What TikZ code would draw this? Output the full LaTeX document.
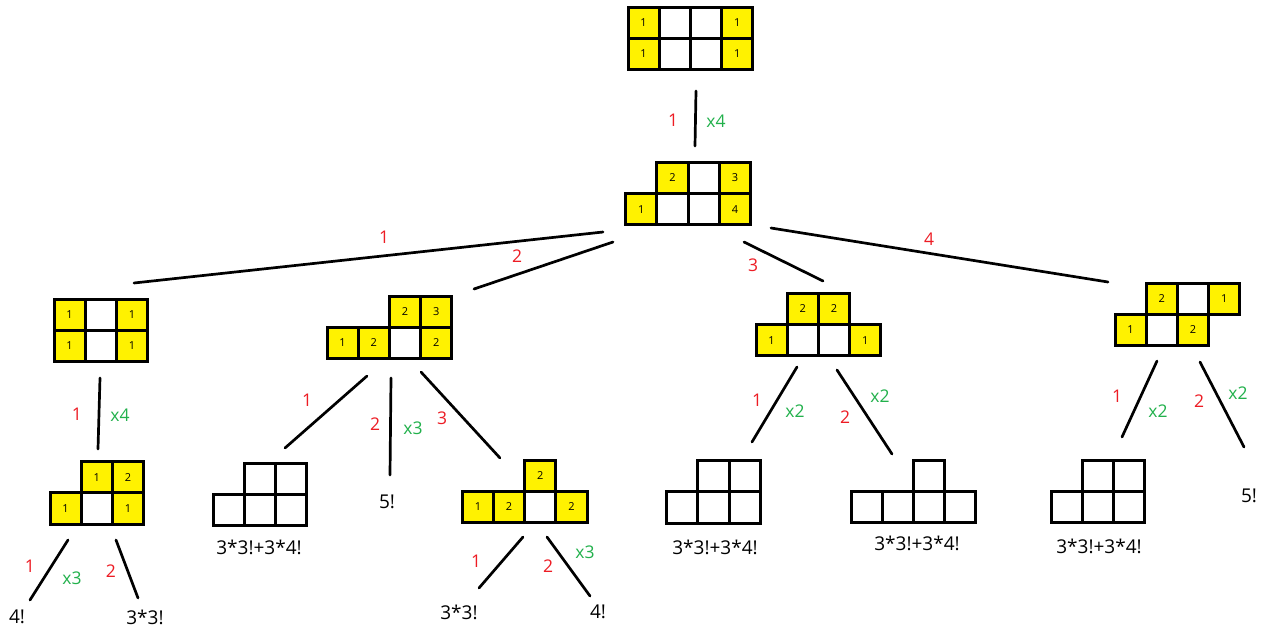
\documentclass[tikz,border=0pt]{standalone}
\usepackage{fontspec}
\setmainfont{Open Sans}
\definecolor{cy}{RGB}{255,242,0}
\definecolor{lred}{RGB}{237,28,36}
\definecolor{lgreen}{RGB}{34,177,76}
\tikzset{
 cellbox/.style={draw=black, line width=3pt, minimum width=31.2pt, minimum height=31.2pt, inner sep=0pt, font=\fontsize{11}{13}\selectfont, fill=white},
 ycell/.style={cellbox, fill=cy},
 wcell/.style={cellbox},
 conn/.style={line width=2.7pt, line cap=round},
 rl/.style={text=lred, font=\fontsize{17.5}{20}\selectfont, inner sep=0pt},
 gl/.style={text=lgreen, font=\fontsize{17.5}{20}\selectfont, inner sep=0pt},
 res/.style={font=\fontsize{19}{22}\selectfont, inner sep=0pt},
}
\newcommand\gridorigin[2]{\def\gox{#1}\def\goy{#2}}
\newcommand\cel[5]{\node[#4] (#1) at ({\gox+(#2+0.5)*31.2},{\goy+(#3+0.5)*31.2}) {#5};}
\begin{document}
\begin{tikzpicture}[x=1pt,y=-1pt]
\useasboundingbox[fill=white] (0,0) rectangle (1275,633);
% G0
\gridorigin{628}{7}
\cel{a1}{1}{0}{wcell}{}\cel{a2}{2}{0}{wcell}{}\cel{a5}{1}{1}{wcell}{}\cel{a6}{2}{1}{wcell}{}
\cel{a0}{0}{0}{ycell}{1}\cel{a3}{3}{0}{ycell}{1}\cel{a4}{0}{1}{ycell}{1}\cel{a7}{3}{1}{ycell}{1}
% G1
\gridorigin{625.7}{162.3}
\cel{b1}{2}{0}{wcell}{}\cel{b4}{1}{1}{wcell}{}\cel{b5}{2}{1}{wcell}{}
\cel{b0}{1}{0}{ycell}{2}\cel{b2}{3}{0}{ycell}{3}\cel{b3}{0}{1}{ycell}{1}\cel{b6}{3}{1}{ycell}{4}
% G2
\gridorigin{54}{299}
\cel{c1}{1}{0}{wcell}{}\cel{c4}{1}{1}{wcell}{}
\cel{c0}{0}{0}{ycell}{1}\cel{c2}{2}{0}{ycell}{1}\cel{c3}{0}{1}{ycell}{1}\cel{c5}{2}{1}{ycell}{1}
% G3
\gridorigin{327}{296}
\cel{d4}{2}{1}{wcell}{}
\cel{d0}{2}{0}{ycell}{2}\cel{d1}{3}{0}{ycell}{3}\cel{d2}{0}{1}{ycell}{1}\cel{d3}{1}{1}{ycell}{2}\cel{d5}{3}{1}{ycell}{2}
% G4
\gridorigin{756}{293.3}
\cel{e3}{1}{1}{wcell}{}\cel{e4}{2}{1}{wcell}{}
\cel{e0}{1}{0}{ycell}{2}\cel{e1}{2}{0}{ycell}{2}\cel{e2}{0}{1}{ycell}{1}\cel{e5}{3}{1}{ycell}{1}
% G5
\gridorigin{1115}{283}
\cel{f1}{2}{0}{wcell}{}\cel{f4}{1}{1}{wcell}{}
\cel{f0}{1}{0}{ycell}{2}\cel{f2}{3}{0}{ycell}{1}\cel{f3}{0}{1}{ycell}{1}\cel{f5}{2}{1}{ycell}{2}
% G6
\gridorigin{50}{461.7}
\cel{g3}{1}{1}{wcell}{}
\cel{g0}{1}{0}{ycell}{1}\cel{g1}{2}{0}{ycell}{2}\cel{g2}{0}{1}{ycell}{1}\cel{g4}{2}{1}{ycell}{1}
% G7
\gridorigin{462.3}{460}
\cel{h3}{2}{1}{wcell}{}
\cel{h0}{2}{0}{ycell}{2}\cel{h1}{0}{1}{ycell}{1}\cel{h2}{1}{1}{ycell}{2}\cel{h4}{3}{1}{ycell}{2}
% G8
\gridorigin{213.3}{463.3}
\cel{i0}{1}{0}{wcell}{}\cel{i1}{2}{0}{wcell}{}\cel{i2}{0}{1}{wcell}{}\cel{i3}{1}{1}{wcell}{}\cel{i4}{2}{1}{wcell}{}
% G9
\gridorigin{666.7}{460.7}
\cel{j0}{1}{0}{wcell}{}\cel{j1}{2}{0}{wcell}{}\cel{j2}{0}{1}{wcell}{}\cel{j3}{1}{1}{wcell}{}\cel{j4}{2}{1}{wcell}{}
% G10
\gridorigin{851}{460}
\cel{k0}{2}{0}{wcell}{}\cel{k1}{0}{1}{wcell}{}\cel{k2}{1}{1}{wcell}{}\cel{k3}{2}{1}{wcell}{}\cel{k4}{3}{1}{wcell}{}
% G11
\gridorigin{1051}{460}
\cel{l0}{1}{0}{wcell}{}\cel{l1}{2}{0}{wcell}{}\cel{l2}{0}{1}{wcell}{}\cel{l3}{1}{1}{wcell}{}\cel{l4}{2}{1}{wcell}{}
% connector end points
\coordinate (p0a) at (696,91);   \coordinate (p0b) at (695,146);
\coordinate (p1a) at (603,232);  \coordinate (p1b) at (134,283);
\coordinate (p2a) at (613,242);  \coordinate (p2b) at (474,289);
\coordinate (p3a) at (744,242);  \coordinate (p3b) at (823,281);
\coordinate (p4a) at (771,228);  \coordinate (p4b) at (1108,282);
\coordinate (p5a) at (100,378);  \coordinate (p5b) at (98,449);
\coordinate (p6a) at (68,540);   \coordinate (p6b) at (30,600);
\coordinate (p7a) at (116,540);  \coordinate (p7b) at (138,598);
\coordinate (p8a) at (367,376);  \coordinate (p8b) at (285,448);
\coordinate (p9a) at (391,378);  \coordinate (p9b) at (390,475);
\coordinate (p10a) at (421,372); \coordinate (p10b) at (500,458);
\coordinate (p11a) at (523,537); \coordinate (p11b) at (479,588);
\coordinate (p12a) at (547,537); \coordinate (p12b) at (590,596);
\coordinate (p13a) at (797,367); \coordinate (p13b) at (752,442);
\coordinate (p14a) at (837,370); \coordinate (p14b) at (892,454);
\coordinate (p15a) at (1157,361);\coordinate (p15b) at (1122,437);
\coordinate (p16a) at (1200,362);\coordinate (p16b) at (1244,447);
\foreach \n in {0,...,16}{\draw[conn] (p\n a) -- (p\n b);}
% labels
\node[rl] (r0) at (673,120) {1}; \node[gl] (g0l) at (716,121) {x4};
\node[rl] (r1) at (384,237) {1};
\node[rl] (r2) at (517,256) {2};
\node[rl] (r3) at (753,265) {3};
\node[rl] (r4) at (929,239) {4};
\node[rl] (r5) at (77,414) {1}; \node[gl] (g5l) at (120,415) {x4};
\node[rl] (r6) at (30,566) {1}; \node[gl] (g6l) at (72,578) {x3};
\node[rl] (r7) at (111,571) {2};
\node[rl] (r8) at (307,400) {1};
\node[rl] (r9) at (375,424) {2}; \node[gl] (g9l) at (413,428) {x3};
\node[rl] (r10) at (442,418) {3};
\node[rl] (r11) at (476,561) {1};
\node[rl] (r12) at (548,566) {2}; \node[gl] (g12l) at (585,552) {x3};
\node[rl] (r13) at (757,400) {1}; \node[gl] (g13l) at (795,411) {x2};
\node[rl] (r14) at (845,417) {2}; \node[gl] (g14l) at (880,396) {x2};
\node[rl] (r15) at (1117,396) {1}; \node[gl] (g15l) at (1158,411) {x2};
\node[rl] (r16) at (1199,401) {2}; \node[gl] (g16l) at (1238,393) {x2};
% results
\node[res] (t1) at (387,502) {5!};
\node[res] (t2) at (17,617) {4!};
\node[res] (t3) at (145,617) {3*3!};
\node[res] (t4) at (459,612) {3*3!};
\node[res] (t5) at (598,612) {4!};
\node[res] (t6) at (1249,496) {5!};
\node[res] (t7) at (259,547) {3*3!+3*4!};
\node[res] (t8) at (715,547) {3*3!+3*4!};
\node[res] (t9) at (917,543) {3*3!+3*4!};
\node[res] (t10) at (1099,546) {3*3!+3*4!};
\end{tikzpicture}
\end{document}
